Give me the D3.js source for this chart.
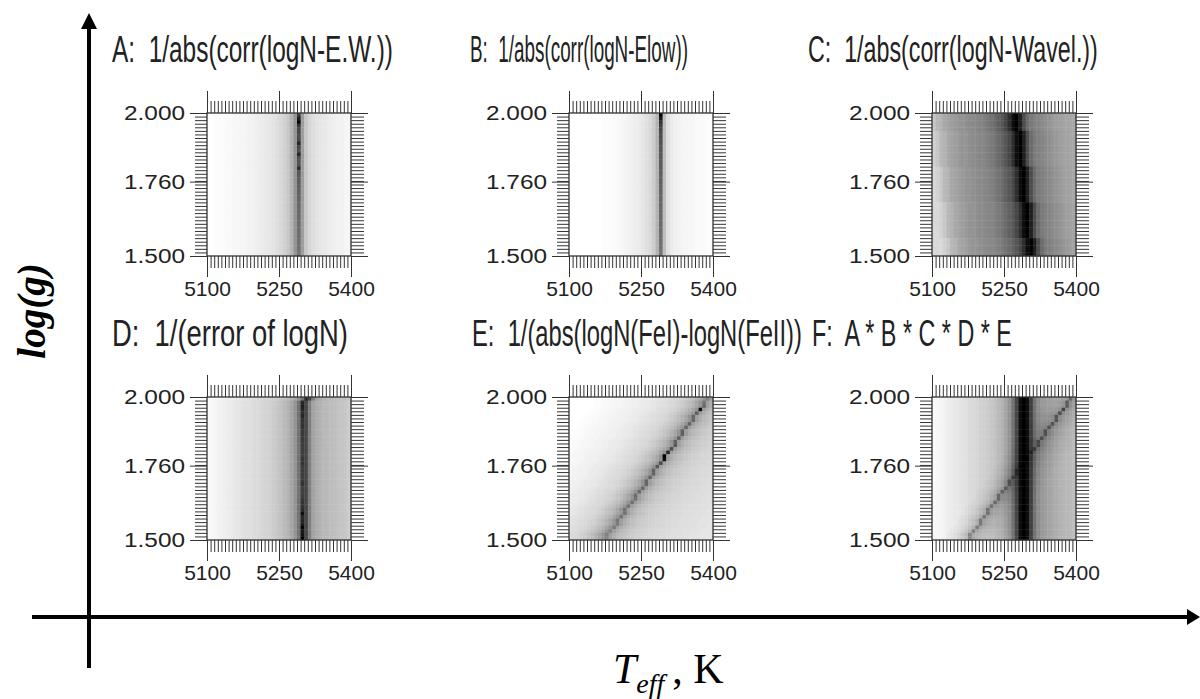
<!DOCTYPE html>
<html>
<head>
<meta charset="utf-8">
<script src="https://cdn.jsdelivr.net/npm/d3@7"></script>
<style>
  body { margin: 0; background: #fff; }
  svg { display: block; }
</style>
</head>
<body>
<div id="chart"></div>
<script>
// fit grid: 40 x 40 cells over Teff 5100..5400 and log(g) 1.5..2.0
const tempStart = 5100, tempStep = 7.5, nTemp = 40;
const loggStart = 1.5, loggStep = 0.0125, nLogg = 40;
const tempTicks = [5100, 5250, 5400];
const loggTicks = [1.5, 1.76, 2.0];
const loggLabels = ["1.500", "1.760", "2.000"];

const titles = [
  "A:\u00a0 1/abs(corr(logN-E.W.))",
  "B:\u00a0 1/abs(corr(logN-Elow))",
  "C:\u00a0 1/abs(corr(logN-Wavel.))",
  "D:\u00a0 1/(error of logN)",
  "E:\u00a0 1/(abs(logN(FeI)-logN(FeII))",
  "F:\u00a0 A * B * C * D * E"
];

// darkness (0 = white, 1 = black) per Teff cell, read along the middle row
const colsA = [0,0,0.01,0.01,0.01,0.02,0.02,0.03,0.03,0.04, 0.04,0.05,0.05,0.06,0.07,0.08,0.09,0.1,0.11,0.13,
               0.15,0.18,0.22,0.3,0.42,0.62,0.38,0.22,0.16,0.13, 0.11,0.1,0.09,0.08,0.07,0.06,0.05,0.05,0.04,0.04];
const colsB = [0,0,0,0,0,0,0,0,0,0.01, 0.01,0.01,0.02,0.02,0.03,0.04,0.05,0.06,0.07,0.08,
               0.1,0.12,0.15,0.2,0.3,0.58,0.25,0.12,0.08,0.06, 0.05,0.04,0.04,0.03,0.03,0.02,0.02,0.02,0.01,0.01];
const colsC = [0.15,0.18,0.22,0.28,0.3,0.34,0.36,0.38,0.4,0.42, 0.42,0.44,0.45,0.46,0.47,0.48,0.5,0.52,0.55,0.58,
               0.62,0.66,0.72,0.82,0.95,1.0,0.88,0.7,0.58,0.52, 0.5,0.48,0.46,0.44,0.42,0.4,0.38,0.37,0.36,0.35];
const colsD = [0.02,0.03,0.04,0.05,0.06,0.07,0.08,0.09,0.1,0.11, 0.12,0.12,0.13,0.14,0.15,0.16,0.17,0.18,0.2,0.22,
               0.24,0.27,0.3,0.35,0.42,0.55,0.8,0.72,0.5,0.36, 0.32,0.3,0.28,0.27,0.26,0.25,0.24,0.23,0.22,0.2];
const colsF = [0.02,0.03,0.04,0.05,0.07,0.08,0.09,0.1,0.11,0.12, 0.14,0.15,0.16,0.18,0.19,0.2,0.22,0.24,0.27,0.3,
               0.35,0.42,0.55,0.72,0.95,1.0,0.95,0.75,0.55,0.45, 0.4,0.38,0.36,0.34,0.32,0.3,0.29,0.28,0.27,0.26];

// how many cells the ridge moves from the bottom row to the top row
const tiltA = 0, tiltB = 0, tiltC = -4, tiltD = 1, tiltF = 0;
const ridgeColA = 25, ridgeColB = 25, ridgeColD = 26;

// darkness of the ridge cell, rows from top (log g = 2.0) to bottom
const ridgeA = [0.75,0.88,1.0,0.8,0.72,0.72,0.7,0.72,0.85,0.72, 0.7,0.85,0.7,0.68,0.68,0.82,0.66,0.66,0.64,0.64,
                0.63,0.62,0.62,0.61,0.6,0.6,0.6,0.59,0.59,0.58, 0.58,0.58,0.57,0.57,0.57,0.56,0.56,0.56,0.55,0.55];
const ridgeB = [1.0,0.9,0.8,0.75,0.72,0.7,0.7,0.68,0.68,0.66, 0.66,0.65,0.65,0.64,0.64,0.63,0.63,0.62,0.62,0.62,
                0.61,0.61,0.6,0.6,0.6,0.6,0.59,0.59,0.59,0.58, 0.58,0.58,0.57,0.57,0.57,0.56,0.56,0.56,0.55,0.55];
const ridgeD = [0.82,0.85,0.88,0.85,0.82,0.85,0.8,0.8,0.8,0.78, 0.78,0.78,0.77,0.77,0.76,0.76,0.76,0.78,0.8,0.76,
                0.76,0.76,0.75,0.78,0.8,0.75,0.75,0.76,0.78,0.8, 0.8,0.82,0.95,0.85,0.85,0.88,0.98,0.9,0.92,1.0];

// FeI = FeII line: Teff where it meets log g = 1.5 and log g = 2.0
const diagBottomT = 5173, diagTopT = 5392;
const diagE = [0.5,0.55,0.6,0.95,0.62,0.6,0.6,0.6,0.6,0.62, 0.62,0.62,0.62,0.65,0.7,0.85,1.0,0.95,0.7,0.65,
               0.62,0.6,0.6,0.6,0.6,0.58,0.58,0.58,0.56,0.56, 0.55,0.55,0.55,0.54,0.54,0.52,0.52,0.5,0.5,0.48];
// halo by cell distance from the line, left/above and right/below
const haloLeftE = [0.42,0.35,0.3,0.26,0.23,0.2,0.18,0.16,0.15,0.14, 0.13,0.12,0.11,0.1,0.09,0.08,0.08,0.07,0.06,0.06,
                   0.05,0.05,0.04,0.04,0.03,0.03,0.02,0.02,0.01,0.01];
const haloRightE = [0.38,0.32,0.28,0.25,0.23,0.21,0.2,0.19,0.18,0.17, 0.16,0.16,0.15,0.15,0.14,0.14,0.13,0.13,0.13,0.12,
                    0.12,0.12,0.11,0.11,0.11,0.1,0.1,0.1,0.1,0.1];
const diagF = [0.45,0.5,0.5,0.62,0.55,0.52,0.52,0.5,0.5,0.5, 0.5,0.5,0.5,0.5,0.5,0.5,0.55,0.6,0.5,0.5,
               0.48,0.48,0.48,0.48,0.46,0.46,0.46,0.45,0.45,0.45, 0.44,0.44,0.44,0.43,0.43,0.42,0.42,0.4,0.4,0.38];
const haloLeftF = [0.18,0.12,0.08,0.05,0.03,0.02];
const haloRightF = [0.22,0.16,0.12,0.09,0.07,0.05,0.04,0.03,0.02,0.01];

// ---- layout ----
const width = 1200, height = 699;
const panelLeft = [207, 569, 932];
const panelTop = [113, 397];
const boxW = 144, boxH = 143;
const titleX = [[112, 470, 808], [112, 472, 812]];
const titleLen = [[281, 218, 290], [236, 330, 200]];

const svg = d3.select("#chart").append("svg")
    .attr("width", width)
    .attr("height", height);

const gray = d3.scaleLinear().domain([0, 1]).range(["#ffffff", "#000000"]).clamp(true);

function profile(cols, tilt, ridgeCol, ridgeRows) {
    return function (i, j) {
        const s = Math.round(tilt * (19.5 - j) / 39);
        const k = Math.max(0, Math.min(nTemp - 1, i - s));
        if (ridgeRows && k === ridgeCol) return ridgeRows[j];
        return cols[k];
    };
}

function diagOffset(i, j) {
    const g = loggStart + (nLogg - 1 - j + 0.5) * loggStep;
    const t = diagBottomT + (diagTopT - diagBottomT) * (g - 1.5) / 0.5;
    return i - Math.floor((t - tempStart) / tempStep);
}

function pick(arr, n, fallback) {
    return n <= arr.length ? arr[n - 1] : fallback;
}

const valueE = function (i, j) {
    const off = diagOffset(i, j);
    if (off === 0) return diagE[j];
    if (off < 0) return pick(haloLeftE, -off, 0);
    return pick(haloRightE, off, haloRightE[haloRightE.length - 1]);
};

const baseF = profile(colsF, tiltF);
const valueF = function (i, j) {
    const off = diagOffset(i, j);
    let d;
    if (off === 0) d = diagF[j];
    else if (off < 0) d = pick(haloLeftF, -off, 0);
    else d = pick(haloRightF, off, 0);
    const b = baseF(i, j);
    return 1 - (1 - b) * (1 - d);
};

const panels = [
    profile(colsA, tiltA, ridgeColA, ridgeA),
    profile(colsB, tiltB, ridgeColB, ridgeB),
    profile(colsC, tiltC),
    profile(colsD, tiltD, ridgeColD, ridgeD),
    valueE,
    valueF
];

const x = d3.scaleLinear().domain([5100, 5400]).range([0, boxW]);
const y = d3.scaleLinear().domain([1.5, 2.0]).range([boxH, 0]);

const minorT = d3.range(nTemp + 1).map(i => tempStart + i * tempStep);
const minorG = d3.range(nLogg + 1).map(j => loggStart + j * loggStep);

function noDomain(g) { g.select(".domain").remove(); }

panels.forEach(function (value, p) {
    const col = p % 3, row = Math.floor(p / 3);
    const g = svg.append("g")
        .attr("transform", `translate(${panelLeft[col]},${panelTop[row]})`);

    const cells = [];
    for (let j = 0; j < nLogg; j++) {
        for (let i = 0; i < nTemp; i++) {
            cells.push({
                t: tempStart + i * tempStep,
                g: loggStart + (nLogg - 1 - j) * loggStep,
                v: value(i, j)
            });
        }
    }

    g.append("g").selectAll("rect")
        .data(cells)
        .enter().append("rect")
        .attr("x", d => x(d.t))
        .attr("y", d => y(d.g + loggStep))
        .attr("width", d => x(d.t + tempStep) - x(d.t) + 0.4)
        .attr("height", d => y(d.g) - y(d.g + loggStep) + 0.4)
        .attr("fill", d => gray(d.v));

    g.append("rect")
        .attr("width", boxW)
        .attr("height", boxH)
        .attr("fill", "none")
        .attr("stroke", "#333")
        .attr("stroke-width", 1.3);

    const tickColor = "#333";

    // minor ticks on all four sides
    g.append("g").call(d3.axisTop(x).tickValues(minorT).tickSize(12).tickFormat("")).call(noDomain);
    g.append("g").attr("transform", `translate(0,${boxH})`)
        .call(d3.axisBottom(x).tickValues(minorT).tickSize(12).tickFormat("")).call(noDomain);
    g.append("g").call(d3.axisLeft(y).tickValues(minorG).tickSize(12).tickFormat("")).call(noDomain);
    g.append("g").attr("transform", `translate(${boxW},0)`)
        .call(d3.axisRight(y).tickValues(minorG).tickSize(13).tickFormat("")).call(noDomain);

    // major ticks
    g.append("g").call(d3.axisTop(x).tickValues(tempTicks).tickSize(22).tickFormat("")).call(noDomain);
    g.append("g").attr("transform", `translate(${boxW},0)`)
        .call(d3.axisRight(y).tickValues(loggTicks).tickSize(17).tickFormat("")).call(noDomain);

    const bottom = g.append("g").attr("transform", `translate(0,${boxH})`)
        .call(d3.axisBottom(x).tickValues(tempTicks).tickSize(21).tickPadding(4).tickFormat(d3.format("d")))
        .call(noDomain);
    bottom.selectAll("text")
        .attr("font-family", "Arial, 'Liberation Sans', sans-serif")
        .attr("font-size", 21)
        .attr("fill", "#222");

    const left = g.append("g")
        .call(d3.axisLeft(y).tickValues(loggTicks).tickSize(17).tickPadding(5)
            .tickFormat((d, i) => loggLabels[i]))
        .call(noDomain);
    left.selectAll("text")
        .attr("font-family", "Arial, 'Liberation Sans', sans-serif")
        .attr("font-size", 20)
        .attr("textLength", 61)
        .attr("lengthAdjust", "spacingAndGlyphs")
        .attr("fill", "#222");

    g.selectAll(".tick line").attr("stroke", tickColor).attr("stroke-width", 1);

    // condensed title: measure at full size, then squeeze horizontally
    const t = svg.append("text")
        .attr("font-family", "'Liberation Sans Narrow', 'Arial Narrow', Arial, sans-serif")
        .attr("font-size", 37)
        .attr("fill", "#222")
        .text(titles[p]);
    const natural = t.node().getComputedTextLength();
    const sx = titleLen[row][col] / natural;
    t.attr("transform", `translate(${titleX[row][col]},${panelTop[row] - 51}) scale(${sx},1)`);
});

// ---- big frame axes ----
svg.append("line")
    .attr("x1", 89).attr("y1", 668).attr("x2", 89).attr("y2", 26)
    .attr("stroke", "#000").attr("stroke-width", 4);
svg.append("path")
    .attr("d", "M81,29 L97,29 L89,13 Z")
    .attr("fill", "#000");
svg.append("line")
    .attr("x1", 32).attr("y1", 617).attr("x2", 1190).attr("y2", 617)
    .attr("stroke", "#000").attr("stroke-width", 4);
svg.append("path")
    .attr("d", "M1187,609 L1187,625 L1200,617 Z")
    .attr("fill", "#000");

svg.append("text")
    .attr("transform", "translate(45,311) rotate(-90)")
    .attr("text-anchor", "middle")
    .attr("font-family", "'Liberation Serif', 'Times New Roman', serif")
    .attr("font-style", "italic")
    .attr("font-weight", "bold")
    .attr("font-size", 39)
    .text("log(g)");

const xl = svg.append("text")
    .attr("x", 613)
    .attr("y", 683)
    .attr("font-family", "'Liberation Serif', 'Times New Roman', serif")
    .attr("font-size", 42);
xl.append("tspan").attr("font-style", "italic").text("T");
xl.append("tspan").attr("font-style", "italic").attr("font-size", 28).attr("dy", 10).text("eff");
xl.append("tspan").attr("dy", -10).attr("dx", 8).text(", K");
</script>
</body>
</html>
